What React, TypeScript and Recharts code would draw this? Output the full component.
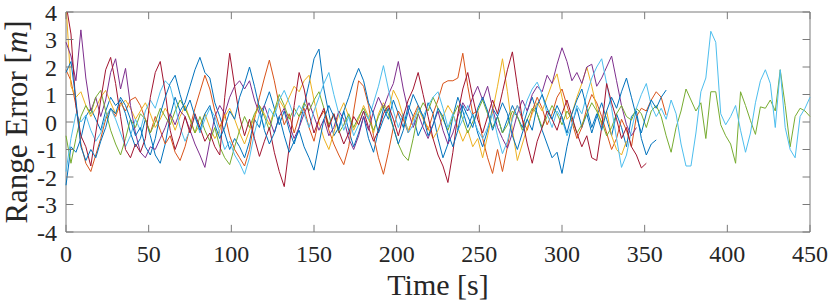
import React from 'react';
import { LineChart, Line, XAxis, YAxis, ReferenceLine, ReferenceArea } from 'recharts';

// sampling grid of the logged range errors
const timeStep = 3; // s

const xTicks = [0, 50, 100, 150, 200, 250, 300, 350, 400, 450];
const yTicks = [-4, -3, -2, -1, 0, 1, 2, 3, 4];

// range error per run [m], one value every 3 s
const runBlue1 = [
  -2.3, -0.9, -1.1, -0.6, 0.2, 0.5, 0.1, -0.3, 0.4, 0.9, 0.6, 0.8,
  0.3, -0.4, -0.9, -0.6, 0.1, -0.5, -1.2, -1.5, -0.8, 0.2, 0.9, 0.4,
  0.7, 1.3, 1.9, 2.35, 1.8, 1.6, 0.7, 0.2, -0.4, -1.0, -0.6, -0.9,
  -1.3, -0.7, 0.1, -0.2, 0.6, 1.1, 0.5, -0.1, 0.4, -0.3, -0.8, -0.2,
  0.6, 1.4, 2.3, 2.65, 1.2, 0.3, -0.5, -0.2, 0.4, -0.3, -0.9, -0.4,
  0.2, -0.6, -1.1, -0.3, 0.5, 0.1, 0.8, 0.3, -0.2, 0.6, 0.2, -0.5,
  -0.1, 0.7, 0.3, -0.6, -1.3, -0.8, 0.2, 0.9, 0.4, -0.2, 0.3, -0.4,
  -0.9, -0.3, 0.5, 0.2, -0.4, 0.1, 0.6, 0.2, -0.2, 0.4, 0.9, 0.3,
  -0.3, -0.8, -1.3, -1.1, -1.87, -0.9, -0.1, 0.5, -0.2, 0.3, -0.4, 0.2,
  0.7, 0.1, -0.5, 0.3, -0.2, -0.9, 0.2, 0.4, -0.6, -1.2, -0.8, -0.65,
];

const runOrange = [
  1.9, 1.5, 0.6, -0.8, -1.5, -1.8, -1.2, -0.6, 0.1, 0.5, 0.2, 0.7,
  0.4, 0.8, 0.9, 0.6, 0.1, -0.4, 0.2, -0.3, -0.8, -0.5, -1.1, -1.4,
  -0.9, -0.2, 0.5, 1.1, 1.7, 1.2, 0.4, -0.2, 0.3, -0.5, -1.0, -1.3,
  -1.6, -1.0, 0.1, 0.9, 1.6, 2.25, 1.5, 0.6, -0.1, 0.3, -0.4, 0.2,
  0.5, -0.2, -0.7, 0.1, 0.4, -0.3, -0.8, -1.2, -1.55, -0.9, 0.4, 1.5,
  1.3, 0.6, -0.5, -1.3, -1.9, -1.1, -0.2, 0.4, 0.1, -0.4, 0.2, 0.6,
  0.2, -0.3, 0.3, 0.8, 1.4, 1.5, 1.5, 1.6, 2.5, 1.3, 0.3, 0.4,
  -0.6, -1.3, -1.87, -1.0, -1.8, -0.9, 0.2, 0.6, 0.1, -0.3, 0.4, 0.9,
  0.5, -0.1, 0.3, 0.9, 1.2, 0.6, 0.0, -0.6, -0.2, 0.5, 1.0, 0.7,
  0.2, -0.4, -1.0, -0.6, 0.1, -0.3, -0.9, 0.2, 0.5, 0.4, 0.8, 1.1,
  0.9, 0.25,
];

const runYellow = [
  4.3, 1.3, 0.9, 1.1, 0.6, 0.2, 0.5, 0.9, 1.15, 0.7, 0.3, 0.6,
  0.8, 0.5, 0.1, 0.4, 0.7, 0.3, -0.2, 0.1, 0.5, 0.2, -0.3, 0.2,
  0.6, 0.1, -0.4, -0.1, 0.3, -0.2, -0.6, -0.3, 0.2, 0.5, 0.1, -0.4,
  -0.8, -0.3, 0.2, 0.6, 0.3, -0.1, 0.4, 0.8, 0.5, 0.9, 1.3, 1.1,
  1.5, 1.7, 0.8, 0.0, -0.6, -1.0, -0.4, 0.3, 0.7, 0.2, -0.3, 0.1,
  0.6, 0.2, -0.4, 0.3, 0.7, 0.4, 1.16, 0.8, 0.2, -0.3, 0.1, 0.5,
  0.1, -0.2, -0.6, -0.3, 0.2, 0.6, 0.3, -0.2, -0.7, -0.3, -0.9, -0.6,
  -1.3, -0.5, 0.4, 1.3, 2.3, 1.1, -0.3, -1.4, -0.8, -0.2, 0.3, 0.7,
  0.4, 0.9, 1.4, 1.75, 0.9, 0.1, 0.3, 0.9, 1.4, 2.0, 1.3, 0.5,
  -0.1, 0.4, -0.5, -1.0, -1.2, -0.7,
];

const runPurple = [
  2.9, 2.4, 1.5, 3.35, 1.6, 0.4, 0.9, 0.2, 0.8, 1.8, 2.3, 1.2,
  1.95, 0.6, -0.4, -1.1, -1.3, -0.9, -1.0, -0.6, -0.2, 0.3, -0.1, 0.4,
  0.2, -0.3, -0.8, -1.2, -1.65, -0.7, 0.2, 0.6, 0.3, 0.9, 1.3, 1.5,
  1.2, 1.5, 0.8, 0.3, 0.6, 0.1, -0.4, 0.2, 0.5, -0.1, -0.6, -0.2,
  0.3, 0.7, 0.2, -0.3, 0.1, -0.5, -0.2, 0.4, 0.1, -0.6, -1.0, -0.5,
  0.2, -0.3, 0.4, 0.9, 0.5, 1.0, 1.4, 2.2, 1.2, 0.4, -0.2, 0.3,
  -0.2, -0.6, -0.1, 0.4, -0.3, -0.8, -0.4, 0.2, 0.7, 0.4, 0.9, 1.3,
  0.8, 1.3, 0.5, -0.2, -0.6, -0.95, -0.4, 0.3, 0.8, 0.4, 1.0, 1.3,
  1.1, 1.7, 1.4, 2.1, 2.7, 2.2, 1.5, 1.8, 1.4, 2.0, 2.1, 1.3,
  1.6, 2.0, 2.4, 1.5, 0.6, -0.1, -0.5, -0.2,
];

const runGreen = [
  -0.5, -1.5, -0.6, 0.2, 0.6, 0.3, 0.9, 1.15, 0.4, -0.3, -0.8, -1.2,
  -0.6, 0.1, -0.2, 0.3, 0.1, -0.4, 0.0, 0.5, 0.2, -0.1, 0.4, 0.8,
  0.5, 0.1, -0.4, 0.2, -0.3, -0.7, -0.2, -0.9, -1.3, -1.55, -0.9, -0.3,
  0.2, -0.2, 0.3, 0.6, 0.2, -0.3, 0.4, 1.0, 0.6, 0.1, 0.5, 0.2,
  0.7, 0.4, 0.8, 1.1, 0.5, -0.1, 0.3, -0.4, -0.1, 0.3, -0.2, 0.2,
  0.5, 0.1, -0.3, 0.2, 0.6, 0.3, -0.2, -0.8, -1.2, -1.4, -0.6, 0.3,
  0.7, 0.4, 0.9, 0.5, 0.1, -0.3, 0.2, 0.6, 0.1, -0.4, 0.0, 0.4,
  0.8, 0.3, -0.2, 0.2, -0.4, -0.1, 0.4, 0.2, -0.3, 0.1, 0.5, 0.3,
  -0.2, 0.2, 0.6, 0.3, -0.1, 0.4, 0.1, -0.4, -0.1, 0.3, 0.7, 0.4,
  0.0, -0.5, -0.2, 0.3, 0.6, 0.2, 0.07, 0.5, 0.3, -0.2, 0.4, 0.6,
  0.2, -0.5, -1.1, -0.2, 0.4, 1.2, 0.8, 0.4, 0.7, -0.6, 1.1, 1.1,
  -0.1, -0.5, -0.8, -1.5, 1.1, 0.6, 0.05, -0.45, 0.55, 0.5, 0.8, 0.4,
  1.9, 0.6, -0.9, 0.2, 0.5, 0.4, 0.2,
];

const runLightBlue = [
  -1.8, -0.6, 0.3, 0.0, 0.25, -0.3, -0.7, -0.4, 0.2, 0.5, 0.1, -0.4,
  -0.9, -0.5, 0.1, -0.3, 0.4, 0.8, 0.5, 1.1, 1.5, 1.3, 0.6, -0.2,
  -0.7, -0.3, 0.2, -0.4, 0.1, 0.5, 0.2, -0.4, -1.0, -0.7, -1.2, -1.5,
  -1.9, -1.3, -0.4, 0.3, -0.2, 0.5, 0.2, 0.8, 1.15, 0.7, 0.2, 0.6,
  0.3, -0.2, 0.4, 0.9, 1.4, 1.8, 1.0, 0.3, -0.3, 0.2, -0.5, -0.1,
  0.4, 0.1, 0.7, 1.3, 2.05, 1.2, 0.4, -0.2, 0.3, -0.4, -0.1, 0.5,
  0.2, 0.6, 0.9, 1.1, 0.5, -0.2, 0.3, -0.3, 0.1, 0.6, 0.2, -0.3,
  -0.6, -0.2, 0.3, -0.5, -1.15, -0.7, 0.1, 0.6, 0.2, 0.8, 1.2, 1.45,
  1.0, 0.3, -0.2, 0.4, 0.1, -0.5, -0.1, 0.6, 0.3, 1.0, 1.6, 2.0,
  2.3, 1.4, 0.5, -0.6, -1.65, -1.2, -0.3, 0.5, 1.0, 1.4, 0.6, 0.2,
  0.5, 0.1, 0.8, 0.3, -0.8, -1.6, -1.6, -0.4, 1.1, 1.6, 3.3, 2.9,
  0.3, -0.1, 0.2, 0.6, -0.3, -1.1, -0.4, 0.7, 1.5, 1.9, 1.4, -0.2,
  1.9, -0.2, -1.0, -1.3, 0.2, 0.5, 0.9,
];

const runRed = [
  4.3, 3.2, 0.6, -0.5, -0.9, -1.6, -0.4, 0.8, 1.9, 2.35, 1.4, 0.2,
  -1.0, -1.3, -0.8, -1.1, -0.6, 0.9, 1.8, 2.2, 1.1, -0.3, -1.0, -0.5,
  0.2, -0.4, 0.3, -0.2, -0.7, -0.4, -0.9, -1.2, 0.9, 2.5, 1.3, 0.2,
  -0.5, 0.1, -0.6, -1.25, -0.7, -0.2, -1.1, -1.8, -2.35, -0.9, 0.6, 1.8,
  1.2, 0.3, -0.4, 0.1, 0.5, -0.2, 0.3, -0.3, -0.8, -0.4, 0.2, -0.1,
  0.4, -0.2, -0.7, -0.3, 0.3, 0.6, 0.1, -0.5, 0.2, 0.8, 1.2, 1.8,
  1.0, 0.2, -0.6, -1.2, -1.6, -2.2, -1.1, 0.3, 1.2, 1.8, 0.9, 0.1,
  -0.4, 0.2, 0.8, 0.3, 1.1, 1.9, 2.55, 1.3, 0.1, -0.8, -1.5, -0.7,
  -0.2, 0.4, 0.1, -0.3, 0.3, 0.8, 0.2, -0.4, -0.9, -0.5, -1.3, -1.4,
  -0.2, 1.4, 0.7, 0.1, -0.6, -0.2, -0.9, -1.2, -1.67, -1.5,
];

const runBlue2 = [
  1.8, 2.2, 0.8, -0.9, -1.4, -1.0, -1.3, -0.7, -0.2, 0.5, 0.3, 0.9,
  0.6, 0.1, -0.5, -0.2, -0.9, -1.2, -0.6, 0.3, 0.9, 1.4, 1.7, 1.0,
  0.4, 0.8, 0.2, -0.3, 0.3, 0.6, -0.1, -0.6, -0.2, 0.4, 0.1, 0.9,
  1.4, 2.0, 1.3, 0.5, -0.3, -0.8, -0.4, 0.2, -0.5, -1.1, -0.7, -0.3,
  -0.9, -1.3, -1.75, -0.8, 0.1, 0.6, 0.2, -0.3, 0.4, 0.9, 1.5, 1.95,
  1.5, 0.7, 0.3, -0.4, 0.1, 0.5, -0.2, -0.8, -0.3, 0.4, 1.0, 0.6,
  0.2, -0.5, -0.1, 0.5, 0.2, -0.4, -0.9, -0.3, 0.6, 0.2, -0.2, 0.5,
  0.9, 0.4, -0.3, 0.2, 0.7, 0.3, -0.5, -1.0, -0.4, 0.1, -0.3, 0.6,
  1.0, 0.5, 0.1, 0.6, 0.2, -0.4, 0.3, 0.8, 1.2, 0.5, -0.2, 0.3,
  -0.3, 0.4, 0.9, 0.5, 1.1, 1.6, 0.9, 0.2, -0.4, 0.3, 0.8, 0.5,
  0.9, 1.16,
];

// MATLAB default colour order, drawn in plot order
const runs = [
  { key: 'run1', color: '#0072BD', values: runBlue1 },
  { key: 'run2', color: '#D95319', values: runOrange },
  { key: 'run3', color: '#EDB120', values: runYellow },
  { key: 'run4', color: '#7E2F8E', values: runPurple },
  { key: 'run5', color: '#77AC30', values: runGreen },
  { key: 'run6', color: '#4DBEEE', values: runLightBlue },
  { key: 'run7', color: '#A2142F', values: runRed },
  { key: 'run8', color: '#0072BD', values: runBlue2 },
];

const nSamples = Math.max(...runs.map(r => r.values.length));
const chartData = Array.from({ length: nSamples }, (_, i) => {
  const row: any = { t: i * timeStep };
  runs.forEach(r => {
    row[r.key] = r.values[i];
  });
  return row;
});

const FONT = 'Liberation Serif';
const TEXT = '#262626';
const BOX = '#7a7a7a';
const TICK_X = 4.5; // inward tick length along x [s]
const TICK_Y = 0.26; // inward tick length along y [m]

const YLabel = () => {
  const cx = 27;
  const cy = 122;
  return (
    <text
      x={cx}
      y={cy}
      transform={`rotate(-90 ${cx} ${cy})`}
      textAnchor="middle"
      style={{ fontFamily: FONT, fontSize: 31 }}
      fill={TEXT}
    >
      Range Error [<tspan fontStyle="italic">m</tspan>]
    </text>
  );
};

const XLabel = () => (
  <text x={438} y={295} textAnchor="middle" style={{ fontFamily: FONT, fontSize: 30 }} fill={TEXT}>
    Time [s]
  </text>
);

const tickStyle = { fontFamily: FONT, fontSize: 24, fill: TEXT, style: { fontFamily: FONT } };

export default function App() {
  return (
    <div style={{ position: 'absolute', left: 0, top: 0, background: '#fff', fontFamily: FONT }}>
      <LineChart
        width={830}
        height={306}
        data={chartData}
        margin={{ top: 12, right: 20, left: 16, bottom: 44 }}
      >
        <XAxis
          dataKey="t"
          type="number"
          domain={[0, 450]}
          ticks={xTicks}
          interval={0}
          height={30}
          axisLine={false}
          tickLine={false}
          tickSize={0}
          tickMargin={13}
          tick={tickStyle}
          label={{ content: XLabel }}
        />
        <YAxis
          type="number"
          domain={[-4, 4]}
          ticks={yTicks}
          interval={0}
          allowDataOverflow
          width={50}
          axisLine={false}
          tickLine={false}
          tickSize={0}
          tickMargin={9}
          tick={tickStyle}
          label={{ content: YLabel }}
        />
        {runs.map(r => (
          <Line
            key={r.key}
            dataKey={r.key}
            type="linear"
            stroke={r.color}
            strokeWidth={1}
            dot={false}
            activeDot={false}
            isAnimationActive={false}
          />
        ))}
        <ReferenceArea x1={0} x2={450} y1={-4} y2={4} fill="none" stroke={BOX} strokeWidth={1} />
        {xTicks.map(v => (
          <ReferenceLine key={`xb${v}`} segment={[{ x: v, y: -4 }, { x: v, y: -4 + TICK_Y }]} stroke={BOX} />
        ))}
        {xTicks.map(v => (
          <ReferenceLine key={`xt${v}`} segment={[{ x: v, y: 4 }, { x: v, y: 4 - TICK_Y }]} stroke={BOX} />
        ))}
        {yTicks.map(v => (
          <ReferenceLine key={`yl${v}`} segment={[{ x: 0, y: v }, { x: TICK_X, y: v }]} stroke={BOX} />
        ))}
        {yTicks.map(v => (
          <ReferenceLine key={`yr${v}`} segment={[{ x: 450, y: v }, { x: 450 - TICK_X, y: v }]} stroke={BOX} />
        ))}
      </LineChart>
    </div>
  );
}
